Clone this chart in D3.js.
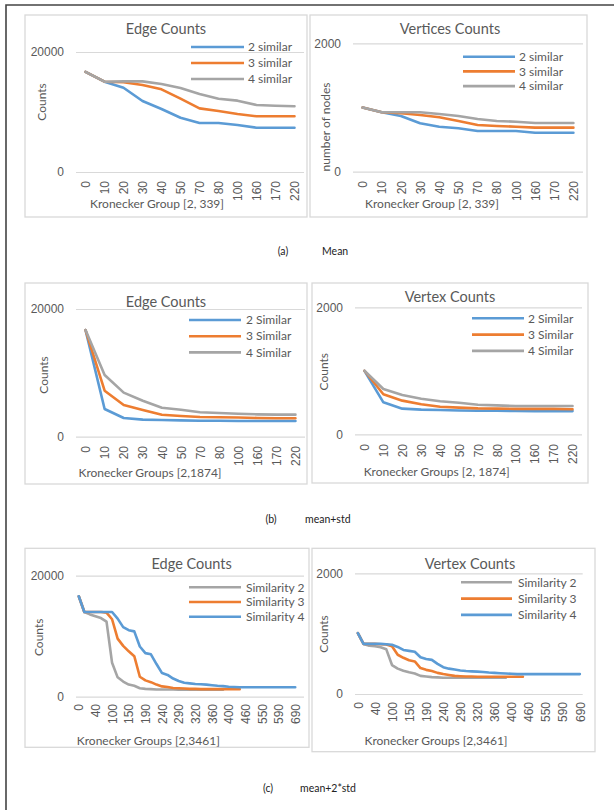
<!DOCTYPE html>
<html>
<head>
<meta charset="utf-8">
<script src="https://cdn.jsdelivr.net/npm/d3@7"></script>
<style>
  body { margin: 0; background: #fff; }
  svg { display: block; font-family: Lato, "Open Sans", sans-serif; }
</style>
</head>
<body>
<svg id="fig" width="614" height="810"></svg>
<script>
// categories
const catsAB = [0, 10, 20, 30, 40, 50, 70, 80, 100, 160, 170, 220];
const catsC = [0, 10, 20, 40, 60, 80, 100, 110, 130, 150, 160, 170, 190, 200, 220, 240, 250, 270, 290, 300,
  310, 320, 330, 340, 360, 370, 380, 400, 420, 440, 460, 490, 520, 550, 560, 570, 590, 620, 650, 690];

// (a) mean
const edgeMean2 = [16700, 15050, 14050, 11830, 10500, 9050, 8170, 8170, 7830, 7380, 7380, 7380];
const edgeMean3 = [16700, 15050, 14950, 14500, 13780, 12220, 10610, 10170, 9670, 9280, 9280, 9280];
const edgeMean4 = [16700, 15050, 15100, 15100, 14670, 14000, 13000, 12220, 11890, 11170, 11050, 10950];
const vertMean2 = [1000, 925, 868, 754, 701, 676, 634, 634, 634, 607, 607, 607];
const vertMean3 = [1000, 925, 910, 883, 847, 790, 727, 712, 701, 686, 686, 686];
const vertMean4 = [1000, 925, 925, 925, 899, 868, 821, 790, 779, 759, 759, 759];

// (b) mean+std
const edgeStd2 = [16700, 4340, 2930, 2670, 2610, 2550, 2500, 2500, 2450, 2450, 2450, 2450];
const edgeStd3 = [16700, 7200, 4970, 4180, 3450, 3240, 3080, 3050, 3000, 2930, 2900, 2900];
const edgeStd4 = [16700, 9670, 6900, 5640, 4540, 4230, 3820, 3710, 3600, 3500, 3450, 3450];
const vertStd2 = [1000, 504, 404, 388, 383, 375, 370, 370, 368, 365, 365, 365];
const vertStd3 = [1000, 630, 530, 472, 435, 420, 409, 405, 400, 400, 400, 394];
const vertStd4 = [1000, 713, 619, 561, 520, 498, 466, 456, 445, 445, 445, 445];

// (c) mean+2*std
const edge2sd2 = [16600, 14000, 13600, 13300, 13000, 12400, 5600, 3200, 2500, 2000, 1800, 1400, 1300, 1250,
  1200, 1200, 1200, 1200, 1150, 1150, 1150, 1150, 1150, 1150, 1150, 1150, 1150];
const edge2sd3 = [16600, 14000, 14000, 14000, 14000, 13900, 12800, 9600, 8400, 7500, 6700, 3300, 2700, 2400,
  2000, 1700, 1600, 1450, 1400, 1350, 1300, 1300, 1250, 1250, 1250, 1250, 1250, 1250, 1250, 1250];
const edge2sd4 = [16600, 14000, 14000, 14000, 14000, 14000, 14000, 12900, 11500, 11000, 10800, 8300, 7200, 7000,
  5400, 3900, 3600, 3000, 2600, 2300, 2200, 2100, 2050, 2000, 1900, 1800, 1750, 1650, 1600, 1550,
  1550, 1550, 1550, 1550, 1550, 1550, 1550, 1550, 1550, 1550];
const vert2sd2 = [1010, 830, 800, 790, 775, 740, 480, 420, 385, 360, 340, 300, 290, 280, 275, 270, 270, 270,
  270, 270, 270, 270, 270, 270, 270, 270, 270];
const vert2sd3 = [1010, 830, 830, 830, 825, 820, 790, 650, 600, 560, 540, 430, 400, 380, 350, 330, 315, 300,
  295, 290, 290, 287, 287, 287, 287, 287, 287, 287, 287, 287];
const vert2sd4 = [1010, 830, 830, 830, 830, 825, 815, 780, 730, 715, 700, 610, 580, 565, 500, 445, 420, 405,
  390, 380, 375, 370, 365, 355, 350, 345, 340, 335, 330, 330, 330, 330, 330, 330, 330, 330, 330, 330, 330, 330];

const BLUE = "#5B9BD5", ORANGE = "#ED7D31", GRAY = "#A5A5A5";
const TXT = "#595959", GRID = "#D9D9D9";

const panels = [
  { title: "Edge Counts", cats: catsAB, yMax: 20000, yLabel: "Counts", xLabel: "Kronecker Group [2, 339]",
    series: [["2 similar", edgeMean2, BLUE], ["3 similar", edgeMean3, ORANGE], ["4 similar", edgeMean4, GRAY]],
    box: [25, 15, 307, 217], plot: [76, 304, 52, 172], titleAt: [166, 29], legend: [191, 244, 248, 47, 16],
    yLabelAt: [42, 102], xLabelAt: [157, 204], tickTop: 181 },
  { title: "Vertices Counts", cats: catsAB, yMax: 2000, yLabel: "number of nodes", xLabel: "Kronecker Group [2, 339]",
    series: [["2 similar", vertMean2, BLUE], ["3 similar", vertMean3, ORANGE], ["4 similar", vertMean4, GRAY]],
    box: [310, 15, 587, 217], plot: [353, 583, 43.3, 171.7], titleAt: [450, 29], legend: [463, 515, 519, 56.7, 14.7],
    yLabelAt: [326, 127], xLabelAt: [432, 204], tickTop: 181 },
  { title: "Edge Counts", cats: catsAB, yMax: 20000, yLabel: "Counts", xLabel: "Kronecker Groups [2,1874]",
    series: [["2 Similar", edgeStd2, BLUE], ["3 Similar", edgeStd3, ORANGE], ["4 Similar", edgeStd4, GRAY]],
    box: [25, 283, 307, 484], plot: [76, 305, 309, 436.7], titleAt: [166, 301.7], legend: [189, 241, 246, 320, 16.2],
    yLabelAt: [44, 375], xLabelAt: [150, 472.7], tickTop: 446 },
  { title: "Vertex Counts", cats: catsAB, yMax: 2000, yLabel: "Counts", xLabel: "Kronecker Groups [2, 1874]",
    series: [["2 Similar", vertStd2, BLUE], ["3 Similar", vertStd3, ORANGE], ["4 Similar", vertStd4, GRAY]],
    box: [312, 283, 588, 483], plot: [355, 582, 307.3, 434.3], titleAt: [450, 297.3], legend: [472, 524, 528, 318.3, 16.3],
    yLabelAt: [323.3, 371.7], xLabelAt: [436.7, 471.7], tickTop: 444 },
  { title: "Edge Counts", cats: catsC, every: 3, xEnd: 298, yMax: 20000, yLabel: "Counts", xLabel: "Kronecker Groups [2,3461]",
    series: [["Similarity 2", edge2sd2, GRAY], ["Similarity 3", edge2sd3, ORANGE], ["Similarity 4", edge2sd4, BLUE]],
    box: [25, 548.3, 309, 747.3], plot: [76, 304, 575.7, 696.7], titleAt: [191.7, 564.3], legend: [189, 241, 246, 587.3, 14.7],
    yLabelAt: [39, 637.3], xLabelAt: [148.3, 740.7], tickTop: 704 },
  { title: "Vertex Counts", cats: catsC, every: 3, yMax: 2000, yLabel: "Counts", xLabel: "Kronecker Groups [2,3461]",
    series: [["Similarity 2", vert2sd2, GRAY], ["Similarity 3", vert2sd3, ORANGE], ["Similarity 4", vert2sd4, BLUE]],
    box: [312, 548.3, 595, 751.7], plot: [355, 582.7, 573.3, 694], titleAt: [470, 564.3], legend: [461, 512, 518, 582.3, 16.3],
    yLabelAt: [323.3, 634], xLabelAt: [436, 740.7], tickTop: 702 }
];

const captions = [
  { tag: "(a)", text: "Mean", tagX: 283, textX: 322, y: 251 },
  { tag: "(b)", text: "mean+std", tagX: 271, textX: 305, y: 519 },
  { tag: "(c)", text: "mean+2*std", tagX: 268, textX: 300, y: 788 }
];

const svg = d3.select("#fig");

// outer frame (cut at right and bottom)
svg.append("path")
  .attr("d", "M6,810 L6,5 L614,5")
  .attr("fill", "none")
  .attr("stroke", "#444")
  .attr("stroke-width", 1.6);

panels.forEach((p) => {
  const g = svg.append("g");
  const [bx0, by0, bx1, by1] = p.box;
  const [x0, x1, yTop, yBot] = p.plot;

  g.append("rect")
    .attr("x", bx0).attr("y", by0)
    .attr("width", bx1 - bx0).attr("height", by1 - by0)
    .attr("fill", "#fff").attr("stroke", GRID).attr("stroke-width", 1.3);

  const x = d3.scalePoint().domain(p.cats.map(String)).range([x0, p.xEnd || x1]).padding(0.5);
  const y = d3.scaleLinear().domain([0, p.yMax]).range([yBot, yTop]);

  // y axis + gridlines
  const yAxis = g.append("g")
    .attr("transform", `translate(${x0},0)`)
    .call(d3.axisLeft(y).tickValues([0, p.yMax]).tickSize(-(x1 - x0)).tickPadding(12).tickFormat(d3.format("d")));
  yAxis.select(".domain").remove();
  yAxis.selectAll("line").attr("stroke", GRID).attr("stroke-width", 1.2);
  yAxis.selectAll("text").attr("fill", TXT).style("font-size", "12px");

  // x axis labels (rotated)
  const xAxis = g.append("g")
    .attr("transform", `translate(0,${yBot})`)
    .call(d3.axisBottom(x).tickSize(0)
      .tickValues(p.cats.map(String).filter((d, i) => i % (p.every || 1) === 0)));
  xAxis.select(".domain").remove();
  xAxis.selectAll("text")
    .attr("fill", TXT)
    .style("font-size", "12px")
    .attr("text-anchor", "end")
    .attr("dy", "0.35em")
    .attr("y", 0)
    .attr("transform", `translate(0,${p.tickTop - yBot}) rotate(-90)`);

  // lines
  const line = d3.line()
    .x((d, i) => x(String(p.cats[i])))
    .y((d) => y(d));
  p.series.forEach(([name, vals, color]) => {
    g.append("path")
      .datum(vals)
      .attr("d", line)
      .attr("fill", "none")
      .attr("stroke", color)
      .attr("stroke-width", 2.6)
      .attr("stroke-linejoin", "round")
      .attr("stroke-linecap", "round");
  });

  // title
  g.append("text")
    .attr("x", p.titleAt[0]).attr("y", p.titleAt[1])
    .attr("dy", "0.35em")
    .attr("text-anchor", "middle")
    .attr("fill", TXT)
    .style("font-size", "14.5px")
    .text(p.title);

  // legend
  const [lx0, lx1, tx, ly, step] = p.legend;
  p.series.forEach(([name, vals, color], i) => {
    g.append("line")
      .attr("x1", lx0).attr("x2", lx1)
      .attr("y1", ly + i * step).attr("y2", ly + i * step)
      .attr("stroke", color).attr("stroke-width", 2.6);
    g.append("text")
      .attr("x", tx).attr("y", ly + i * step)
      .attr("dy", "0.35em")
      .attr("fill", TXT)
      .style("font-size", "12px")
      .text(name);
  });

  // axis titles
  g.append("text")
    .attr("transform", `translate(${p.yLabelAt[0]},${p.yLabelAt[1]}) rotate(-90)`)
    .attr("dy", "0.35em")
    .attr("text-anchor", "middle")
    .attr("fill", TXT)
    .style("font-size", "12px")
    .text(p.yLabel);
  g.append("text")
    .attr("x", p.xLabelAt[0]).attr("y", p.xLabelAt[1])
    .attr("dy", "0.35em")
    .attr("text-anchor", "middle")
    .attr("fill", TXT)
    .style("font-size", "12px")
    .text(p.xLabel);
});

captions.forEach((c) => {
  svg.append("text")
    .attr("x", c.tagX).attr("y", c.y).attr("dy", "0.35em")
    .attr("text-anchor", "middle").attr("fill", "#222")
    .style("font-size", "10.5px")
    .text(c.tag);
  svg.append("text")
    .attr("x", c.textX).attr("y", c.y).attr("dy", "0.35em")
    .attr("fill", "#222")
    .style("font-size", "10.5px")
    .text(c.text);
});
</script>
</body>
</html>
